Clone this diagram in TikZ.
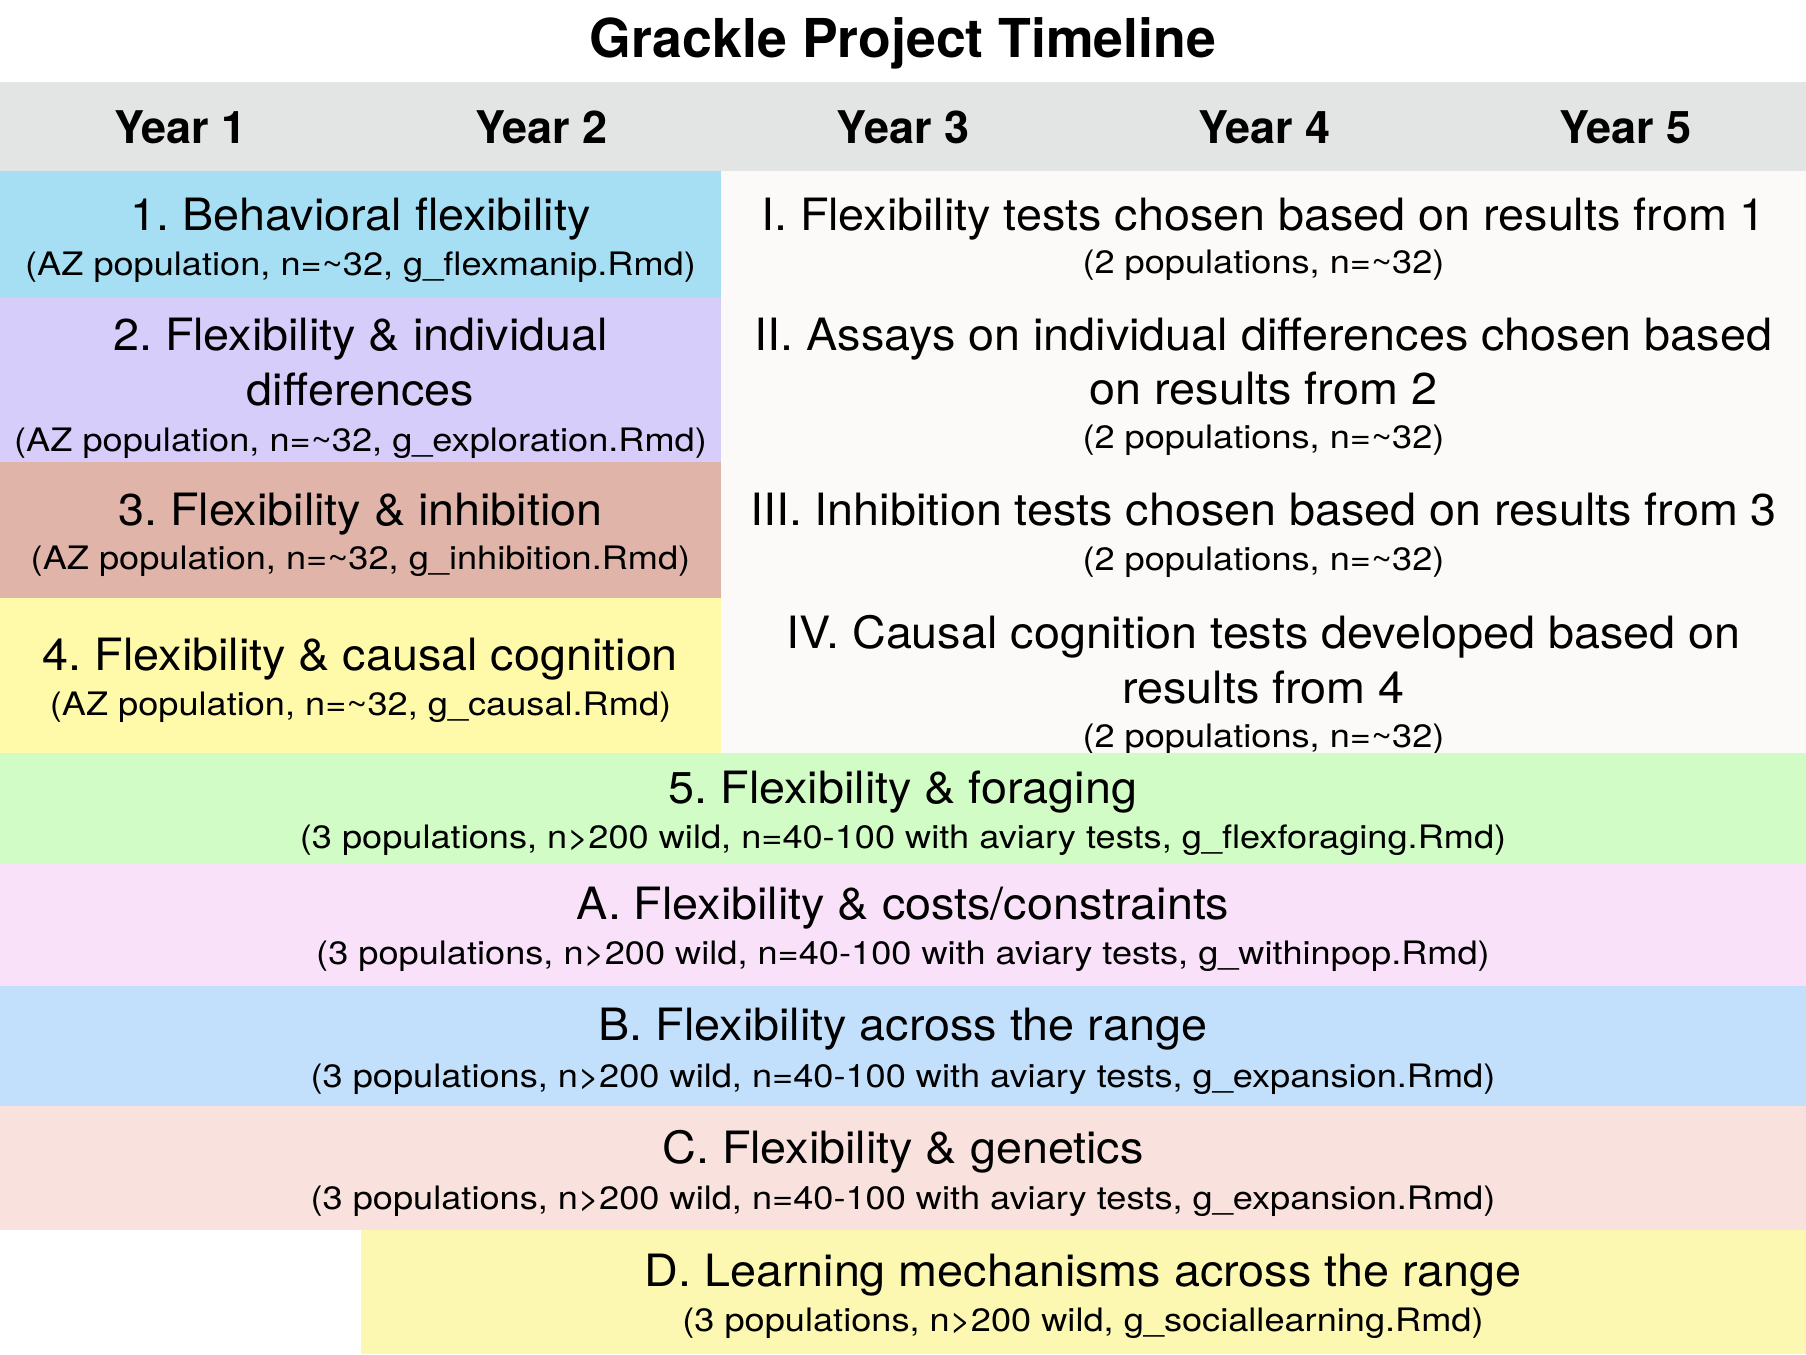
\documentclass[tikz,border=0pt]{standalone}
\usepackage{fontspec}
\setmainfont{TeX Gyre Heros}
\newfontfamily\bigf{TeX Gyre Heros}[FakeStretch=1.05]
\newfontfamily\smallf{TeX Gyre Heros}[FakeStretch=1.12]
\definecolor{hdrgray}{HTML}{E3E5E4}
\definecolor{rightcol}{HTML}{FBFAF8}
\definecolor{cblue}{HTML}{A6DFF4}
\definecolor{cpurple}{HTML}{D7CDFA}
\definecolor{cbrown}{HTML}{E0B4A9}
\definecolor{cyellow}{HTML}{FFFAA9}
\definecolor{cgreen}{HTML}{D2FCC6}
\definecolor{cpink}{HTML}{F9E2F9}
\definecolor{cblueb}{HTML}{C2DFFB}
\definecolor{crose}{HTML}{F9E1DE}
\definecolor{cyellowd}{HTML}{FCF8B1}
\frenchspacing
\tikzset{
  txt/.style={anchor=base, inner sep=0pt, text=black},
  titletxt/.style={txt, font=\fontsize{53.6}{60}\selectfont\bfseries},
  yeartxt/.style={txt, font=\fontsize{45}{50}\selectfont\bfseries},
  maintxt/.style={txt, font=\bigf\fontsize{44.5}{55}\selectfont},
  subtxt/.style={txt, font=\smallf\fontsize{32.3}{40}\selectfont},
}
\begin{document}
\begin{tikzpicture}[x=1pt, y=-1pt]
\useasboundingbox (0,0) rectangle (1806,1354);
\fill[white] (0,0) rectangle (1806,1354);

% title and year header
\node[titletxt] (title) at (903,58) {Grackle Project Timeline};
\fill[hdrgray] (0,82) rectangle (1806,171);
\foreach \i in {1,...,5}
  \node[yeartxt] (year\i) at ({361.2*(\i-0.5)},143) {Year \i};

% years 1-2: individual studies; years 3-5: follow-ups
\fill[rightcol] (721,171) rectangle (1806,753);
\fill[cblue]   (0,171) rectangle (721,298);
\fill[cpurple] (0,298) rectangle (721,462);
\fill[cbrown]  (0,462) rectangle (721,598);
\fill[cyellow] (0,598) rectangle (721,753);

\node[maintxt] (s1) at (360.5,230) {1. Behavioral flexibility};
\node[subtxt]  (s1n) at (360.5,275) {(AZ population, n=\textasciitilde 32, g\_flexmanip.Rmd)};
\node[maintxt] (s2a) at (360.5,350) {2. Flexibility \& individual};
\node[maintxt] (s2b) at (360.5,405) {differences};
\node[subtxt]  (s2n) at (360.5,451.5) {(AZ population, n=\textasciitilde 32, g\_exploration.Rmd)};
\node[maintxt] (s3) at (360.5,525) {3. Flexibility \& inhibition};
\node[subtxt]  (s3n) at (360.5,569) {(AZ population, n=\textasciitilde 32, g\_inhibition.Rmd)};
\node[maintxt] (s4) at (360.5,670) {4. Flexibility \& causal cognition};
\node[subtxt]  (s4n) at (360.5,715) {(AZ population, n=\textasciitilde 32, g\_causal.Rmd)};

\node[maintxt] (r1) at (1263.5,230) {I. Flexibility tests chosen based on results from 1};
\node[subtxt]  (r1n) at (1263.5,273) {(2 populations, n=\textasciitilde 32)};
\node[maintxt] (r2a) at (1263.5,350) {II. Assays on individual differences chosen based};
\node[maintxt] (r2b) at (1263.5,404) {on results from 2};
\node[subtxt]  (r2n) at (1263.5,448) {(2 populations, n=\textasciitilde 32)};
\node[maintxt] (r3) at (1263.5,525) {III. Inhibition tests chosen based on results from 3};
\node[subtxt]  (r3n) at (1263.5,570) {(2 populations, n=\textasciitilde 32)};
\node[maintxt] (r4a) at (1263.5,648) {IV. Causal cognition tests developed based on};
\node[maintxt] (r4b) at (1263.5,703) {results from 4};
\node[subtxt]  (r4n) at (1263.5,747) {(2 populations, n=\textasciitilde 32)};

% full-width studies
\fill[cgreen]   (0,753) rectangle (1806,863);
\fill[cpink]    (0,863) rectangle (1806,986);
\fill[cblueb]   (0,986) rectangle (1806,1106);
\fill[crose]    (0,1106) rectangle (1806,1230);
\fill[cyellowd] (360.5,1230) rectangle (1806,1354);

\node[maintxt] (s5) at (903,803) {5. Flexibility \& foraging};
\node[subtxt]  (s5n) at (903,848) {(3 populations, n>200 wild, n=40-100 with aviary tests, g\_flexforaging.Rmd)};
\node[maintxt] (sa) at (903,919) {A. Flexibility \& costs/constraints};
\node[subtxt]  (san) at (903,964) {(3 populations, n>200 wild, n=40-100 with aviary tests, g\_withinpop.Rmd)};
\node[maintxt] (sb) at (903,1040) {B. Flexibility across the range};
\node[subtxt]  (sbn) at (903,1087) {(3 populations, n>200 wild, n=40-100 with aviary tests, g\_expansion.Rmd)};
\node[maintxt] (sc) at (903,1163.5) {C. Flexibility \& genetics};
\node[subtxt]  (scn) at (903,1209) {(3 populations, n>200 wild, n=40-100 with aviary tests, g\_expansion.Rmd)};
\node[maintxt] (sd) at (1083,1286.5) {D. Learning mechanisms across the range};
\node[subtxt]  (sdn) at (1083,1331) {(3 populations, n>200 wild, g\_sociallearning.Rmd)};
\end{tikzpicture}
\end{document}
